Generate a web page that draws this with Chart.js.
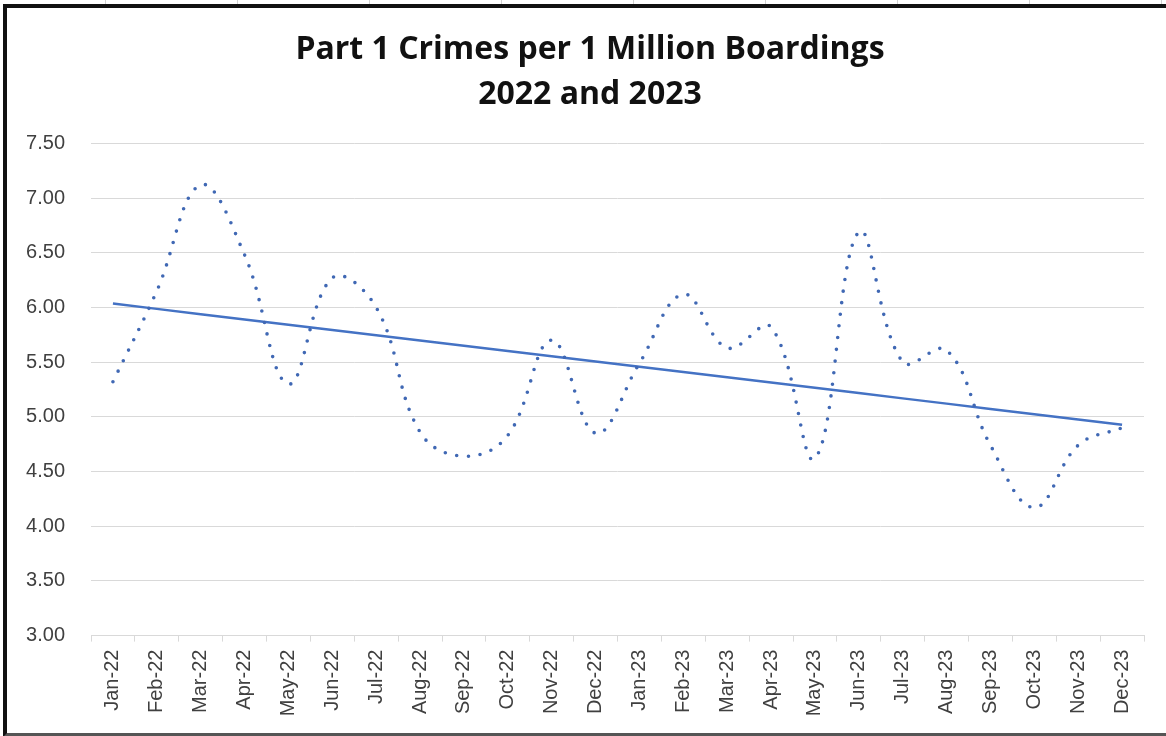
<!DOCTYPE html>
<html>
<head>
<meta charset="utf-8">
<script src="https://cdn.jsdelivr.net/npm/chart.js@4/dist/chart.umd.min.js"></script>
<style>
  body { margin: 0; background: #fff; }
  #wrap { position: relative; width: 1166px; height: 736px; overflow: hidden; }
  #strip { position: absolute; left: 0; top: 0; width: 1166px; height: 4px;
    background-image: repeating-linear-gradient(90deg, transparent 0 105px, #d0d0d0 105px 106px, transparent 106px 132px); }
  #frame { position: absolute; left: 3px; top: 4px; width: 1170px; height: 725px;
    border: 4px solid #111; border-bottom-color: #555; pointer-events: none; }
  canvas { position: absolute; left: 0; top: 0; }
</style>
</head>
<body>
<div id="wrap">
  <div id="strip"></div>
  <canvas id="myChart" width="1166" height="736"></canvas>
  <div id="frame"></div>
</div>
<script>
const months = ["Jan-22", "Feb-22", "Mar-22", "Apr-22", "May-22", "Jun-22", "Jul-22", "Aug-22",
  "Sep-22", "Oct-22", "Nov-22", "Dec-22", "Jan-23", "Feb-23", "Mar-23", "Apr-23",
  "May-23", "Jun-23", "Jul-23", "Aug-23", "Sep-23", "Oct-23", "Nov-23", "Dec-23"];
const crimes = [5.32, 6.15, 7.12, 6.48, 5.30, 6.27, 6.00, 4.86, 4.64, 4.83, 5.70, 4.85,
  5.49, 6.12, 5.63, 5.82, 4.62, 6.69, 5.50, 5.61, 4.74, 4.17, 4.74, 4.90];
const yTicks = [3.0, 3.5, 4.0, 4.5, 5.0, 5.5, 6.0, 6.5, 7.0, 7.5];
const titleLines = ["Part 1 Crimes per 1 Million Boardings", "2022 and 2023"];

// linear trendline (least squares), like Excel's
const n = crimes.length;
let sx = 0, sy = 0, sxy = 0, sxx = 0;
crimes.forEach(function (v, i) { sx += i; sy += v; sxy += i * v; sxx += i * i; });
const slope = (n * sxy - sx * sy) / (n * sxx - sx * sx);
const icpt = (sy - slope * sx) / n;
const trend = crimes.map(function (v, i) { return icpt + slope * i; });

const axisFont = { family: "'Liberation Sans', Arial", size: 20 };

// Excel centres the title on the whole chart box, not the plot, so draw it here
const titlePlugin = {
  id: "excelTitle",
  afterDraw: function (chart) {
    const ctx = chart.ctx;
    ctx.save();
    ctx.font = "bold 32px 'Open Sans'";
    ctx.fillStyle = "#111";
    ctx.textAlign = "center";
    ctx.textBaseline = "middle";
    titleLines.forEach(function (t, i) { ctx.fillText(t, 590, 50 + i * 45); });
    ctx.restore();
  },
};

const config = {
  type: "line",
  data: {
    labels: months,
    datasets: [
      {
        label: "Part 1 Crimes",
        data: crimes,
        borderColor: "#4068b4",
        borderWidth: 3.6,
        borderDash: [0, 11.7],
        borderCapStyle: "round",
        tension: 0.4,
        pointRadius: 0,
        fill: false,
      },
      {
        label: "Linear",
        data: trend,
        borderColor: "#4472c4",
        borderWidth: 2.5,
        pointRadius: 0,
        tension: 0,
        fill: false,
      },
    ],
  },
  options: {
    responsive: false,
    animation: false,
    layout: { padding: { top: 143.3, right: 22, left: 0, bottom: 0 } },
    plugins: {
      legend: { display: false },
      tooltip: { enabled: false },
      title: { display: false },
    },
    scales: {
      x: {
        offset: true,
        grid: { offset: true, drawOnChartArea: false, color: "#d9d9d9", tickLength: 6 },
        border: { color: "#d9d9d9", width: 1 },
        ticks: { color: "#404040", font: axisFont, minRotation: 90, maxRotation: 90, padding: 8, autoSkip: false },
        afterFit: function (scale) { scale.height = 100.4; },
      },
      y: {
        min: 3,
        max: 7.5,
        afterBuildTicks: function (scale) { scale.ticks = yTicks.map(function (v) { return { value: v }; }); },
        grid: { color: "#d9d9d9", drawTicks: false },
        border: { display: false },
        ticks: {
          color: "#404040",
          font: axisFont,
          padding: 26,
          callback: function (v) { return Number(v).toFixed(2); },
        },
        afterFit: function (scale) { scale.width = 91; },
      },
    },
  },
  plugins: [titlePlugin],
};
const myChart = new Chart(document.getElementById("myChart"), config);
</script>
</body>
</html>
